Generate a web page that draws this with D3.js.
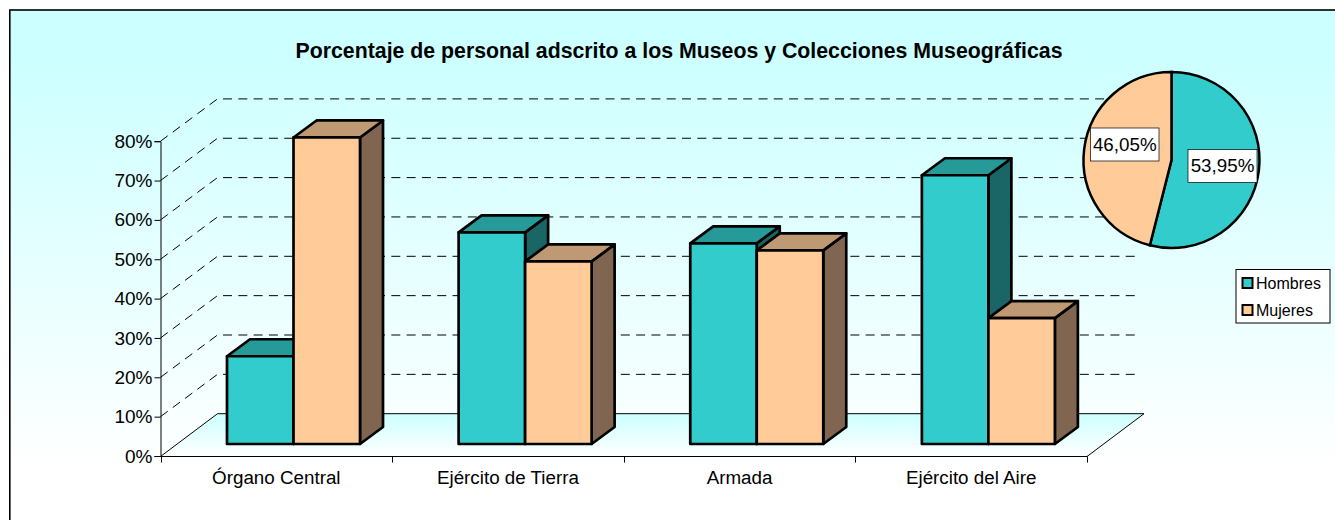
<!DOCTYPE html>
<html><head><meta charset="utf-8">
<script src="https://cdn.jsdelivr.net/npm/d3@7/dist/d3.min.js"></script>
<style>html,body{margin:0;padding:0;background:#fff;overflow:hidden}svg{display:block}text{font-family:"Liberation Sans",Arial,sans-serif;fill:#000}</style>
</head><body><div id="c"></div>
<script>
const categories=["Órgano Central","Ejército de Tierra","Armada","Ejército del Aire"];
const hombres=[22.3,53.8,51,68.3];
const mujeres=[77.9,46.4,49.2,32];
const yTicks=[0,10,20,30,40,50,60,70,80];
const pieLabels=["Hombres","Mujeres"];
const pieValues=[53.95,46.05];
const pieText=["53,95%","46,05%"];
const title="Porcentaje de personal adscrito a los Museos y Colecciones Museográficas";
const fillH="#33cccc",fillM="#ffcc99",topH="#269999",sideH="#1a6666",topM="#bf9973",sideM="#806650";

const W=1335,H=520;
const svg=d3.select("#c").append("svg").attr("width",W).attr("height",H);
const defs=svg.append("defs");
const g1=defs.append("linearGradient").attr("id","bg").attr("gradientUnits","userSpaceOnUse").attr("x1",0).attr("x2",0).attr("y1",50).attr("y2",470);
g1.append("stop").attr("offset",0).attr("stop-color","#ccffff");
g1.append("stop").attr("offset",1).attr("stop-color","#ffffff");
const g2=defs.append("linearGradient").attr("id","fl").attr("x1",0).attr("x2",0).attr("y1",0).attr("y2",1);
g2.append("stop").attr("offset",0).attr("stop-color","#ccffff");
g2.append("stop").attr("offset",1).attr("stop-color","#ffffff");

svg.append("rect").attr("x",9.8).attr("y",10).attr("width",W+20).attr("height",H+20).attr("fill","url(#bg)").attr("stroke","#000").attr("stroke-width",1.6);

const x=d3.scaleBand().domain(categories).range([160.5,1087]);
const y=d3.scaleLinear().domain([0,80]).range([456,141.2]);
const dx=57,dy=-42.3;

svg.append("path").attr("d",d3.line()([[160.5,456],[160.5+dx,456+dy],[1087+dx,456+dy],[1087,456]])+"Z").attr("fill","url(#fl)").attr("stroke","none");
svg.append("path").attr("d",d3.line()([[160.5,456.5],[160.5+dx,456+dy],[1087+dx,456+dy],[1087,456.5]])).attr("fill","none").attr("stroke","#000");

const grid=svg.append("g");
yTicks.slice(1).forEach(t=>{
  grid.append("path").attr("d",d3.line()([[160.5,y(t)],[160.5+dx,y(t)+dy],[1081+dx,y(t)+dy]]))
    .attr("fill","none").attr("stroke","#000").attr("stroke-width",1).attr("stroke-dasharray","9 6.3");
});

const yAxis=d3.axisLeft(y).tickValues(yTicks).tickFormat(d=>d+"%").tickSize(6).tickPadding(2);
const ya=svg.append("g").attr("transform","translate(160.5,0)").call(yAxis);
ya.selectAll("text").attr("font-size",19).attr("fill","#000");
ya.selectAll("path,line").attr("stroke","#000");

const xa=svg.append("g").attr("transform","translate(0,456.5)");
xa.append("line").attr("x1",160.5).attr("x2",1087).attr("stroke","#000");
categories.map(c=>x(c)).concat([1087]).forEach(v=>{
  xa.append("line").attr("x1",Math.round(v)+.5).attr("x2",Math.round(v)+.5).attr("y1",0).attr("y2",6).attr("stroke","#000");
});
xa.selectAll("text").data(categories).join("text").attr("x",c=>x(c)+x.bandwidth()/2).attr("y",27).attr("text-anchor","middle").attr("font-size",18.8).text(c=>c);

const bw=66.5,bx=66.5,base=444,ddx=23,ddy=-17;
const unit=(y(0)-y(10))/10;
const bars=svg.append("g").attr("stroke","#000").attr("stroke-width",2.7).attr("stroke-linejoin","round");
function box(x0,v,f,t,s){
  const top=base-v*unit,x1=x0+bw;
  const L=d3.line();
  bars.append("path").attr("d",L([[x1,base],[x1+ddx,base+ddy],[x1+ddx,top+ddy],[x1,top]])+"Z").attr("fill",s);
  bars.append("path").attr("d",L([[x0,top],[x0+ddx,top+ddy],[x1+ddx,top+ddy],[x1,top]])+"Z").attr("fill",t);
  bars.append("rect").attr("x",x0).attr("y",top).attr("width",bw).attr("height",base-top).attr("fill",f);
}
categories.forEach((c,i)=>{
  const x0=x(c)+bx;
  box(x0,hombres[i],fillH,topH,sideH);
  box(x0+bw,mujeres[i],fillM,topM,sideM);
});

const cx=1171.5,cy=160,r=88;
const pie=d3.pie().sort(null)(pieValues);
const arc=d3.arc().innerRadius(0).outerRadius(r);
const pg=svg.append("g").attr("transform",`translate(${cx},${cy})`);
pg.selectAll("path").data(pie).join("path").attr("d",arc).attr("fill",(d,i)=>i?fillM:fillH).attr("stroke","#000").attr("stroke-width",2.5);
const lab=[[1188,149.5,69,33],[1090.5,128,68.5,33]];
pieText.forEach((t,i)=>{
  const [a,b,c,d]=lab[i];
  svg.append("rect").attr("x",a).attr("y",b).attr("width",c).attr("height",d).attr("fill","#fff").attr("stroke","#000").attr("stroke-width",.7);
  svg.append("text").attr("x",a+c/2).attr("y",b+22.5).attr("text-anchor","middle").attr("font-size",18.8).text(t);
});

svg.append("text").attr("x",679).attr("y",58).attr("text-anchor","middle").attr("font-size",21.3).attr("font-weight","bold").text(title);

const lg=svg.append("g");
lg.append("rect").attr("x",1236).attr("y",269.5).attr("width",94).attr("height",53.5).attr("fill","#fff").attr("stroke","#000");
pieLabels.forEach((l,i)=>{
  const yy=283+i*27;
  lg.append("rect").attr("x",1242.5).attr("y",yy-5).attr("width",10).attr("height",10).attr("fill",i?fillM:fillH).attr("stroke","#000").attr("stroke-width",2);
  lg.append("text").attr("x",1256).attr("y",yy+6).attr("font-size",16).text(l);
});
</script></body></html>
